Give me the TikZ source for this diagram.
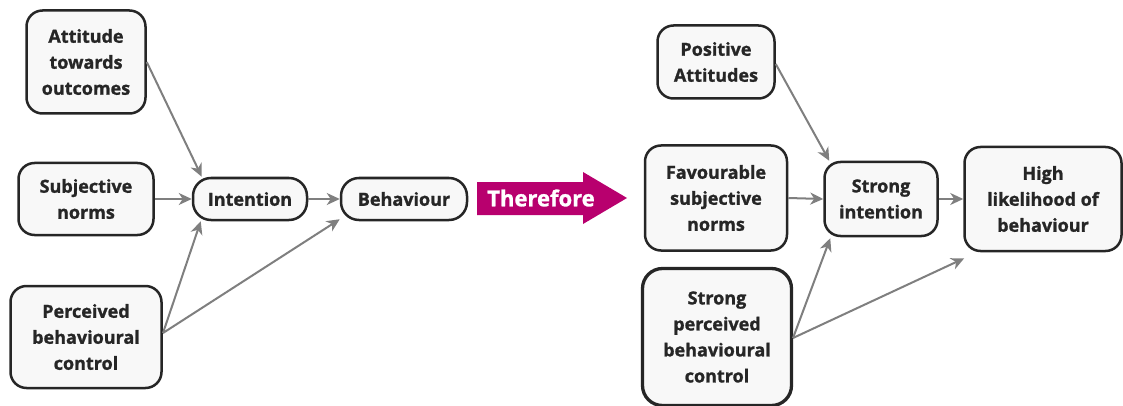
\documentclass[tikz,border=0pt]{standalone}
\usepackage{fontspec}
\setmainfont{Open Sans}[BoldFeatures={FakeBold=1.2}]
\usetikzlibrary{arrows.meta}
\definecolor{boxfill}{HTML}{F8F8F8}
\definecolor{boxline}{HTML}{262626}
\definecolor{arrowgray}{HTML}{7F7F7F}
\definecolor{therefore}{HTML}{B8006E}
\tikzset{
  box/.style={draw=boxline, line width=2.5pt, fill=boxfill, rounded corners=16pt,
    align=center, font=\fontsize{18}{26}\selectfont\bfseries, text=boxline, inner sep=0pt},
  link/.style={draw=arrowgray, line width=2pt, -{Stealth[length=13pt,width=12pt,inset=4pt]}}
}
\begin{document}
\begin{tikzpicture}[x=1pt,y=-1pt]
\useasboundingbox (0,0) rectangle (1123,406);
% left model
\node[box, minimum width=119pt, minimum height=103pt] (att) at (86,62) {Attitude\\towards\\outcomes};
\node[box, minimum width=135pt, minimum height=72pt] (sn) at (86,199) {Subjective\\norms};
\node[box, minimum width=151pt, minimum height=102pt] (pbc) at (86,337) {Perceived\\behavioural\\control};
\node[box, minimum width=114pt, minimum height=42pt, rounded corners=18pt] (int) at (250,199) {Intention};
\node[box, minimum width=126pt, minimum height=42pt, rounded corners=18pt] (beh) at (404,199) {Behaviour};
\coordinate (pbcout) at (163,333);
\draw[link] (att.east) -- ([xshift=10pt]int.north west);
\draw[link] (sn.east) -- (int.west);
\draw[link] (pbcout) -- ([xshift=9pt]int.south west);
\draw[link] (pbcout) -- ([yshift=2pt]beh.south west);
\draw[link] (int.east) -- (beh.west);
% therefore arrow
\fill[therefore] (477,182) -- (583,182) -- (583,172) -- (627,198) -- (583,224) -- (583,215) -- (477,215) -- cycle;
\node[text=white, font=\fontsize{22}{26}\selectfont\bfseries, inner sep=0pt] (thf) at (541,198) {Therefore};
% right model
\node[box, minimum width=117pt, minimum height=73pt] (pos) at (716,62) {Positive\\Attitudes};
\node[box, minimum width=142pt, minimum height=105pt] (fav) at (716,198) {Favourable\\subjective\\norms};
\node[box, minimum width=149pt, minimum height=137pt, line width=3.3pt, rounded corners=20pt] (spbc) at (717,337) {Strong\\perceived\\behavioural\\control};
\node[box, minimum width=113pt, minimum height=74pt] (sint) at (881,199) {Strong\\intention};
\node[box, minimum width=157pt, minimum height=104pt] (high) at (1043,199) {High\\likelihood of\\behaviour};
\coordinate (spbcout) at (793,338);
\draw[link] ([yshift=-2pt]pos.east) -- ([xshift=6pt]sint.north west);
\draw[link] (fav.east) -- (sint.west);
\draw[link] (spbcout) -- ([xshift=7pt,yshift=-1pt]sint.south west);
\draw[link] (spbcout) -- ([xshift=1pt,yshift=-6pt]high.south west);
\draw[link] (sint.east) -- (high.west);
\end{tikzpicture}
\end{document}
